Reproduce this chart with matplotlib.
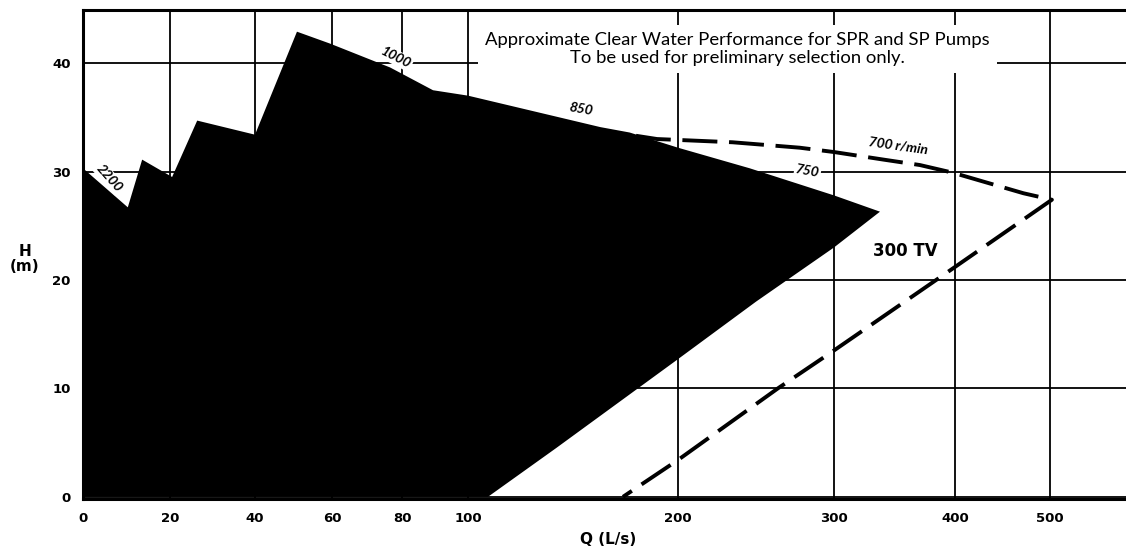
import matplotlib
matplotlib.use("Agg")
import matplotlib.pyplot as plt
import numpy as np

# the scanned chart's Q axis is neither linear nor log: tick values and where they sit
q_ticks = [0, 20, 40, 60, 80, 100, 200, 300, 400, 500]
q_tick_pos = [83, 170, 255, 332, 402, 468, 678, 834, 955, 1050]
h_ticks = [0, 10, 20, 30, 40]

# outline of the shaded SPR / SP pump coverage (Q in L/s, H in m)
area_q = [0, 10.3, 13.6, 20.5, 26.4, 40, 50.9, 59.5, 76.6, 89.4, 100, 163, 177,
          200, 246, 300, 338, 300, 250, 200, 142, 109.5, 0]
area_h = [30.3, 26.7, 31.1, 29.5, 34.7, 33.4, 42.9, 41.8, 39.6, 37.5, 37.0, 34.1, 33.6,
          32.2, 30.3, 27.8, 26.3, 23.0, 18.0, 12.7, 4.5, 0, 0]

# 300 TV pump envelope, dashed
tv_q = [180, 190, 235, 278, 300, 341, 371, 398, 472, 502, 400, 300, 264, 200, 173.8]
tv_h = [33.3, 33.0, 32.7, 32.2, 31.8, 31.1, 30.6, 29.9, 28.0, 27.4, 21.2, 13.5, 10.0, 3.4, 0]

# speed labels along the curves
speed_labels = ["2200", "1000", "850", "750", "700 r/min"]
speed_q = [6.0, 78.3, 153.8, 283, 353]
speed_h = [29.4, 40.5, 35.8, 30.0, 32.4]
speed_rot = [-48, -27, -10, -10, -8]

# extend the anchors a bit so the scale works past the last tick
anchor_q = np.array([-100] + q_ticks + [600], dtype=float)
anchor_p = np.array([83 - 435] + q_tick_pos + [1145], dtype=float)


def fwd(q):
    return np.interp(q, anchor_q, anchor_p)


def inv(p):
    return np.interp(p, anchor_p, anchor_q)


fig = plt.figure(figsize=(11.26, 5.53), dpi=100)
ax = fig.add_axes([83 / 1126, 1 - 499 / 553, 1 - 83 / 1126, 489 / 553])
ax.set_xscale("function", functions=(fwd, inv))
ax.set_xlim(0, 580)
ax.set_ylim(-0.2, 44.9)

ax.set_xticks(q_ticks)
ax.set_xticklabels([str(q) for q in q_ticks])
ax.set_yticks(h_ticks)
ax.tick_params(length=0, pad=9, labelsize=9.5)
for lab in ax.get_xticklabels() + ax.get_yticklabels():
    lab.set_fontweight("bold")

ax.set_axisbelow(True)
ax.grid(True, color="black", linewidth=1.3)
ax.spines["right"].set_visible(False)
for s in ["left", "top", "bottom"]:
    ax.spines[s].set_linewidth(2.2)

ax.plot(tv_q, tv_h, color="black", linewidth=2.8, linestyle=(0, (9, 3)), zorder=1.5)
ax.fill(area_q, area_h, color="black", linewidth=0, zorder=2)

for txt, q, h, r in zip(speed_labels, speed_q, speed_h, speed_rot):
    ax.text(q, h, txt, rotation=r, ha="center", va="center", fontsize=10,
            fontstyle="italic", fontweight="bold", family="Lato", zorder=3,
            bbox=dict(facecolor="white", edgecolor="none", pad=1))

ax.text(359, 22.7, "300 TV", ha="center", va="center", fontsize=12,
        fontweight="bold", zorder=3)

ax.text(238, 41.3, "Approximate Clear Water Performance for SPR and SP Pumps\n"
        "To be used for preliminary selection only.",
        ha="center", va="center", fontsize=13.3, family="Lato", linespacing=1.2,
        zorder=3, bbox=dict(facecolor="white", edgecolor="none", pad=5))

fig.text(608 / 1126, 1 - 540 / 553, "Q (L/s)", ha="center", va="center",
         fontsize=11, fontweight="bold")
fig.text(25 / 1126, 1 - 259 / 553, "H\n(m)", ha="center", va="center",
         fontsize=11, fontweight="bold", linespacing=1.0)

fig.savefig("out.png", dpi=100)
